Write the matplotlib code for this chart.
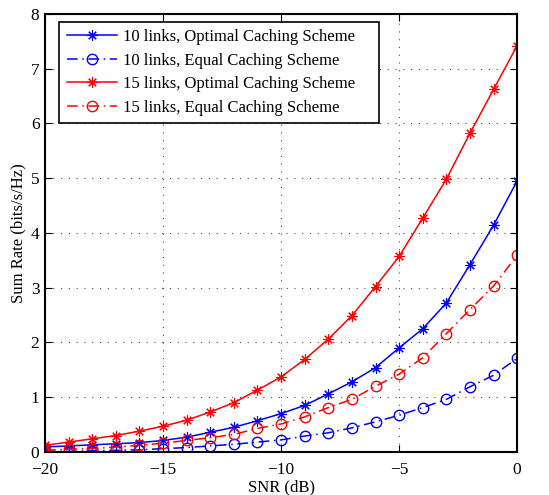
import numpy as np
import matplotlib.pyplot as plt

plt.rcParams['font.family'] = ['Liberation Serif', 'DejaVu Serif']

snr = np.arange(-20, 1, 1)

# sum rate (bits/s/Hz) per SNR point
opt10 = [0.09, 0.11, 0.13, 0.15, 0.17, 0.21, 0.27, 0.36, 0.45, 0.57, 0.70,
         0.85, 1.06, 1.28, 1.54, 1.90, 2.25, 2.72, 3.42, 4.14, 4.95]
eq10 = [0.01, 0.01, 0.02, 0.03, 0.04, 0.06, 0.08, 0.11, 0.14, 0.18, 0.22,
        0.29, 0.35, 0.44, 0.55, 0.67, 0.81, 0.96, 1.19, 1.40, 1.71]
opt15 = [0.12, 0.18, 0.24, 0.30, 0.38, 0.47, 0.58, 0.73, 0.90, 1.13, 1.37,
         1.69, 2.06, 2.49, 3.02, 3.57, 4.27, 4.98, 5.82, 6.62, 7.42]
eq15 = [0.03, 0.05, 0.06, 0.09, 0.12, 0.16, 0.21, 0.26, 0.32, 0.43, 0.51,
        0.64, 0.81, 0.96, 1.20, 1.42, 1.72, 2.16, 2.60, 3.03, 3.59]

labels = ['10 links, Optimal Caching Scheme', '10 links, Equal Caching Scheme',
          '15 links, Optimal Caching Scheme', '15 links, Equal Caching Scheme']

fig = plt.figure(figsize=(5.49, 4.95), dpi=100)
ax = fig.add_axes([0.082, 0.087, 0.860, 0.885])

star = (8, 2, 0)
dashdot = (0, (7, 3, 1, 3))
ax.plot(snr, opt10, '-', color='b', marker=star, ms=7.5, mew=0.8, lw=1.1, label=labels[0])
ax.plot(snr, eq10, color='b', ls=dashdot, marker='o', ms=7.5, mfc='none', mew=1.0, lw=1.1, label=labels[1])
ax.plot(snr, opt15, '-', color='r', marker=star, ms=7.5, mew=0.8, lw=1.1, label=labels[2])
ax.plot(snr, eq15, color='r', ls=dashdot, marker='o', ms=7.5, mfc='none', mew=1.0, lw=1.1, label=labels[3])

ax.set_xlim(-20, 0)
ax.set_ylim(0, 8)
ax.set_xticks(np.arange(-20, 1, 5))
ax.set_yticks(np.arange(0, 9, 1))
ax.set_xticklabels(['\u221220', '\u221215', '\u221210', '\u22125', '0'])
ax.grid(True, color='0.3', linestyle=(0, (1, 6)), linewidth=0.8)
ax.tick_params(direction='in', top=True, right=True, labelsize=12.5, length=5)
ax.tick_params(axis='x', pad=7)
ax.tick_params(axis='y', pad=4)
for s in ax.spines.values():
    s.set_linewidth(1.5)

ax.set_xlabel('SNR (dB)', fontsize=12, labelpad=1)
ax.set_ylabel('Sum Rate (bits/s/Hz)', fontsize=12, labelpad=3)

# extra room on the right of the legend text, as in the MATLAB legend box
leg = ax.legend([l + '    ' for l in labels], loc='upper left',
                bbox_to_anchor=(0.03, 0.982), borderaxespad=0,
                fontsize=12, fancybox=False, framealpha=1, edgecolor='k',
                handlelength=3.0, labelspacing=0.45, borderpad=0.45,
                handletextpad=0.4)
leg.get_frame().set_linewidth(1.2)

fig.savefig('out.png', dpi=100)
